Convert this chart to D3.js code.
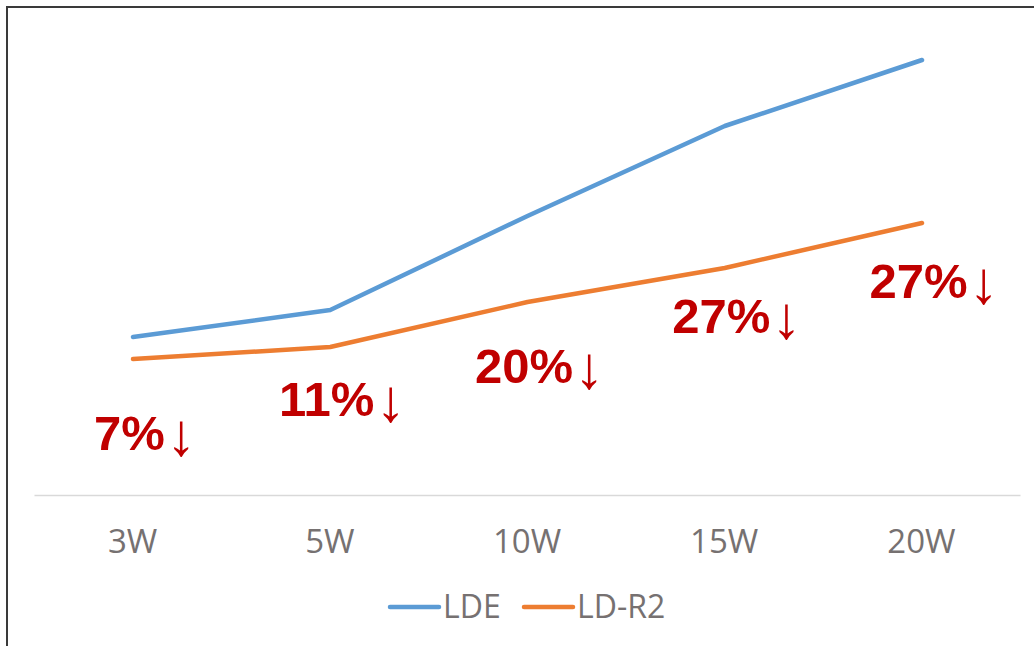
<!DOCTYPE html>
<html>
<head>
<meta charset="utf-8">
<script src="https://cdn.jsdelivr.net/npm/d3@7"></script>
<style>
  html, body { margin: 0; padding: 0; background: #fff; }
  svg { display: block; }
</style>
</head>
<body>
<div id="chart"></div>
<script>
  var categories = ['3W', '5W', '10W', '15W', '20W'];
  var seriesNames = ['LDE', 'LD-R2'];
  var ldeValues = [3.13, 3.40, 4.34, 5.24, 5.90];
  var ldr2Values = [2.91, 3.03, 3.48, 3.82, 4.27];
  var dropLabels = ['7%', '11%', '20%', '27%', '27%'];
  // where each drop label sits, in value units
  var dropLabelLevels = [2.00, 2.34, 2.67, 3.17, 3.52];

  var width = 1034;
  var height = 646;
  var colors = ['#5b9bd5', '#ed7d31'];

  var svg = d3.select('#chart').append('svg')
    .attr('width', width)
    .attr('height', height);

  // frame (only top and left edges are in view)
  svg.append('line')
    .attr('x1', 7).attr('y1', 7).attr('x2', width).attr('y2', 7)
    .attr('stroke', '#3a3a3a').attr('stroke-width', 2);
  svg.append('line')
    .attr('x1', 7).attr('y1', 6).attr('x2', 7).attr('y2', height)
    .attr('stroke', '#3a3a3a').attr('stroke-width', 2);

  var x = d3.scalePoint().domain(categories).range([133, 922]);
  var y = d3.scaleLinear().domain([1.55, 6.0]).range([495, 50]);

  // category axis
  var xAxis = d3.axisBottom(d3.scaleBand().domain(categories).range([34, 1020]))
    .tickSize(0)
    .tickPadding(35);
  var axisG = svg.append('g')
    .attr('transform', 'translate(0,' + y(1.55) + ')')
    .call(xAxis);
  axisG.select('.domain').attr('stroke', '#d9d9d9').attr('stroke-width', 1.5);
  axisG.selectAll('text')
    .attr('fill', '#767171')
    .style('font-family', '"Open Sans", "Noto Sans", sans-serif')
    .style('font-size', '33px');

  var line = d3.line()
    .x(function(d, i) { return x(categories[i]); })
    .y(function(d) { return y(d); });

  [ldeValues, ldr2Values].forEach(function(values, k) {
    svg.append('path')
      .datum(values)
      .attr('d', line)
      .attr('fill', 'none')
      .attr('stroke', colors[k])
      .attr('stroke-width', 4.5)
      .attr('stroke-linecap', 'round')
      .attr('stroke-linejoin', 'round');
  });

  // drop labels
  var labels = svg.append('g').selectAll('text')
    .data(dropLabels)
    .enter().append('text')
    .attr('x', function(d, i) { return x(categories[i]) + 12; })
    .attr('y', function(d, i) { return y(dropLabelLevels[i]); })
    .attr('text-anchor', 'middle')
    .attr('fill', '#c00000')
    .style('font-family', '"Liberation Sans", Arial, sans-serif')
    .style('font-size', '49px');
  labels.append('tspan').style('font-weight', 'bold').text(function(d) { return d; });
  labels.append('tspan')
    .style('font-weight', 'normal')
    .style('font-size', '60px')
    .attr('dx', 1)
    .attr('dy', 5)
    .text('\u2193');

  // legend
  var legendItems = [
    { name: seriesNames[0], color: colors[0], x: 390 },
    { name: seriesNames[1], color: colors[1], x: 524 }
  ];
  var legend = svg.append('g').selectAll('g')
    .data(legendItems)
    .enter().append('g')
    .attr('transform', function(d) { return 'translate(' + d.x + ',607)'; });
  legend.append('line')
    .attr('x1', 0).attr('x2', 49)
    .attr('stroke', function(d) { return d.color; })
    .attr('stroke-width', 4.5)
    .attr('stroke-linecap', 'round');
  legend.append('text')
    .attr('x', 53)
    .attr('y', 11)
    .attr('fill', '#767171')
    .style('font-family', '"Open Sans", "Noto Sans", sans-serif')
    .style('font-size', '32px')
    .text(function(d) { return d.name; });
</script>
</body>
</html>
